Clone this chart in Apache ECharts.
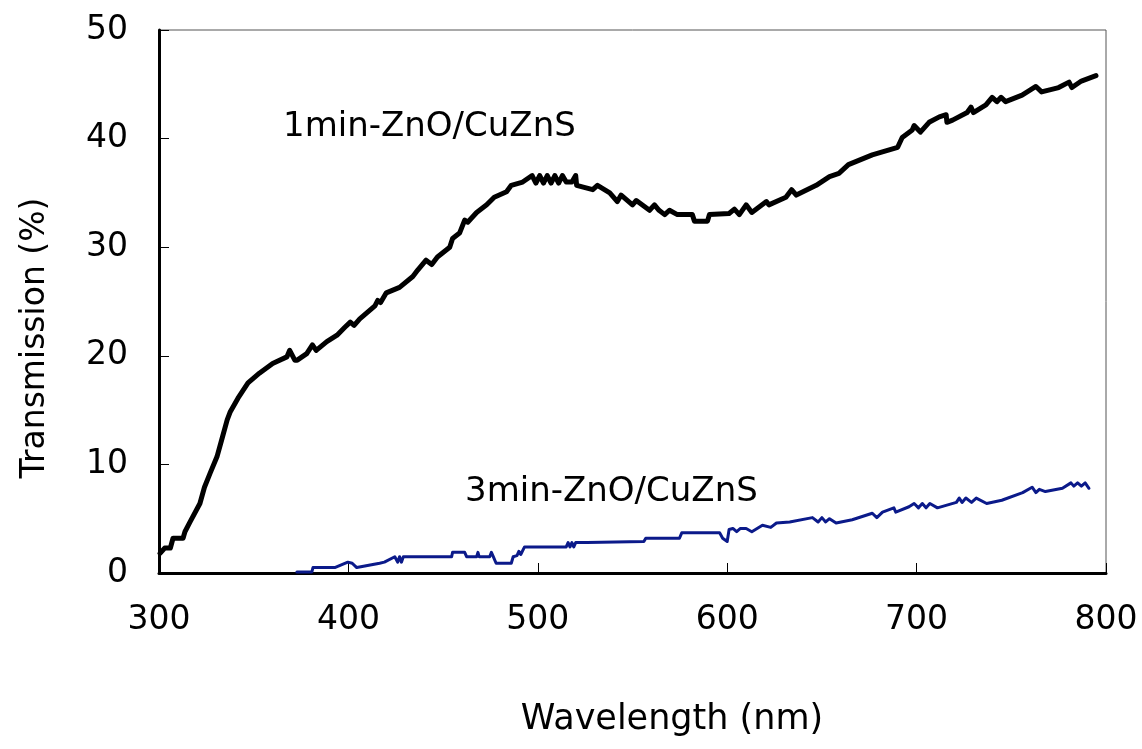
<!DOCTYPE html>
<html>
<head>
<meta charset="utf-8">
<title>Transmission spectra</title>
<script src="https://cdn.jsdelivr.net/npm/echarts@6/dist/echarts.min.js"></script>
<style>
  html, body { margin: 0; padding: 0; background: #ffffff; }
  #chart { width: 1142px; height: 749px; }
</style>
</head>
<body>
<div id="chart"></div>
<script>
// Wavelength (nm) and transmission (%) for the 1 min ZnO/CuZnS film
var wl1 = [300.5,303,306,307.4,312.7,313.7,316.4,321.6,324,327,330.6,333,336,337.5,341.7,347,353,360,367.5,369,371.7,373,378,381,383,388.6,394,398,401,403,406,410,414,415.5,417,420,427,434,436.6,441,444,447,453.5,455,458.7,461.4,463,467.7,473,477,483.5,486,492,497,499,501,503,505,507,509,511,513,515,518,520,520.5,529,531.5,538,542,544,550,552,559,561.6,564,567,569.5,573.7,581.6,582.7,589.6,590.6,601,603.8,606.4,610,613,620.7,622,631,634,636.5,647,654,659,664,676.6,690,692.4,697.7,698.7,702,706.6,712,715.6,716,719,726.7,728.7,730,736.6,739.9,742.4,744.6,747,755.7,763,766,775,780.5,782,787,794.7];
var t1 = [1.8,2.3,2.3,3.2,3.2,3.8,4.7,6.4,7.9,9.2,10.7,12.2,14.1,14.8,16.1,17.5,18.4,19.3,19.9,20.5,19.6,19.6,20.2,21.0,20.5,21.3,21.9,22.6,23.1,22.8,23.4,24.0,24.6,25.1,24.9,25.8,26.3,27.3,27.9,28.8,28.4,29.1,30.0,30.8,31.3,32.5,32.3,33.2,33.9,34.6,35.1,35.7,36.0,36.6,35.9,36.6,35.9,36.6,35.9,36.6,35.9,36.6,36.0,36.0,36.6,35.7,35.3,35.7,35.0,34.2,34.8,33.9,34.3,33.4,33.9,33.4,33.0,33.4,33.0,33.0,32.4,32.4,33.0,33.1,33.5,33.0,33.9,33.2,34.2,33.9,34.6,35.3,34.8,35.7,36.5,36.8,37.6,38.5,39.2,40.1,40.8,41.2,40.6,41.5,42.0,42.2,41.5,41.7,42.4,42.9,42.4,43.1,43.8,43.4,43.8,43.4,44.0,44.8,44.3,44.7,45.2,44.7,45.3,45.8];

// Wavelength (nm) and transmission (%) for the 3 min ZnO/CuZnS film
var wl2 = [372.8,380.7,381.3,392.8,399.7,402,404.4,416.5,419,424.5,426,427,428,429,430.8,454.5,455,461.4,462.4,467.7,468.4,469,474.6,475.5,476.5,478,486,487,489,490,491,493,515,516,517,518,519,520,526,556,557,574.8,576,596,597.6,600,601,603,605,607,610,613,618.6,623,626,633,645,648,650,652,654,657.5,666,676.6,679,682,688,689,696,698.7,701,703,705,707,711,721,722.5,724,726,729,731.5,737,745,756,761,763,764.8,768,777,781.5,783,785,787,789,791];
var t2 = [0.1,0.1,0.5,0.5,1.0,0.9,0.5,0.9,1.0,1.5,1.0,1.5,1.0,1.5,1.5,1.5,1.9,1.9,1.5,1.5,1.9,1.5,1.5,1.9,1.5,0.9,0.9,1.5,1.6,2.0,1.7,2.4,2.4,2.8,2.4,2.8,2.4,2.8,2.8,2.9,3.2,3.2,3.7,3.7,3.2,2.9,4.0,4.1,3.8,4.1,4.1,3.8,4.4,4.2,4.6,4.7,5.1,4.7,5.1,4.7,5.0,4.6,4.9,5.5,5.1,5.6,6.0,5.6,6.1,6.4,6.0,6.4,6.0,6.4,6.0,6.5,6.9,6.5,6.9,6.5,6.9,6.4,6.7,7.4,7.9,7.4,7.7,7.5,7.8,8.3,8.0,8.3,8.0,8.3,7.8];

var seriesNames = ['1min-ZnO/CuZnS', '3min-ZnO/CuZnS'];
var xTicks = [300, 400, 500, 600, 700, 800];
var yTicks = [0, 10, 20, 30, 40, 50];

function pairs(xs, ys) {
  return xs.map(function (x, i) { return [x, ys[i]]; });
}

var FONT = 'DejaVu Sans';
var chart = echarts.init(document.getElementById('chart'), null, { renderer: 'canvas' });

chart.setOption({
  backgroundColor: '#ffffff',
  animation: false,
  grid: {
    left: 159, right: 36, top: 30, bottom: 176,
    show: true, borderColor: '#555555', borderWidth: 1, backgroundColor: 'transparent'
  },
  xAxis: {
    type: 'value',
    min: xTicks[0], max: xTicks[xTicks.length - 1], interval: 100,
    axisLine: { show: true, onZero: false, lineStyle: { color: '#000000', width: 3 } },
    axisTick: { show: true, inside: true, length: 10, lineStyle: { color: '#000000', width: 1 } },
    axisLabel: { margin: 31, color: '#000000', fontFamily: FONT, fontSize: 33 },
    splitLine: { show: false }
  },
  yAxis: {
    type: 'value',
    min: yTicks[0], max: yTicks[yTicks.length - 1], interval: 10,
    axisLine: { show: true, lineStyle: { color: '#000000', width: 3 } },
    axisTick: { show: true, inside: true, length: 10, lineStyle: { color: '#000000', width: 1 } },
    axisLabel: { margin: 31, color: '#000000', fontFamily: FONT, fontSize: 33 },
    splitLine: { show: false }
  },
  series: [
    {
      name: seriesNames[0], type: 'line', data: pairs(wl1, t1),
      showSymbol: false, smooth: false,
      lineStyle: { color: '#000000', width: 5, join: 'round', cap: 'round' },
      z: 3
    },
    {
      name: seriesNames[1], type: 'line', data: pairs(wl2, t2),
      showSymbol: false, smooth: false,
      lineStyle: { color: '#0b1a8a', width: 3, join: 'round', cap: 'round' },
      z: 2
    }
  ],
  graphic: [
    {
      type: 'text', left: 283, top: 110,
      style: { text: seriesNames[0], fontFamily: FONT, fontSize: 34, fill: '#000000' }
    },
    {
      type: 'text', left: 465, top: 475,
      style: { text: seriesNames[1], fontFamily: FONT, fontSize: 34, fill: '#000000' }
    },
    {
      type: 'text', x: 672, y: 720,
      style: { text: 'Wavelength (nm)', fontFamily: FONT, fontSize: 35, fill: '#000000',
               align: 'center', verticalAlign: 'middle' }
    },
    {
      type: 'text', x: 35, y: 338, rotation: Math.PI / 2,
      style: { text: 'Transmission (%)', fontFamily: FONT, fontSize: 33, fill: '#000000',
               align: 'center', verticalAlign: 'middle' }
    }
  ]
});
</script>
</body>
</html>
